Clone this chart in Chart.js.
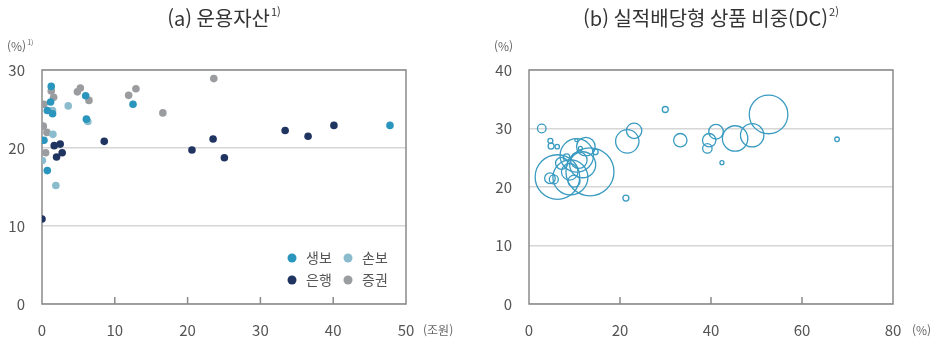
<!DOCTYPE html>
<html lang="ko">
<head>
    <meta charset="UTF-8">
    <title>운용자산 / 실적배당형 상품 비중</title>
    <script src="https://cdn.jsdelivr.net/npm/chart.js@4"></script>
    <style>
        body { margin: 0; background: #ffffff; }
        .wrap { position: relative; width: 934px; height: 339px; }
        .wrap canvas { position: absolute; top: 0; }
        #leftChart { left: 0; }
        #rightChart { left: 467px; }
    </style>
</head>
<body>
    <div class="wrap">
        <canvas id="leftChart" width="467" height="339"></canvas>
        <canvas id="rightChart" width="467" height="339"></canvas>
    </div>

    <script>
        // (a) 운용자산 (조원) vs 수익률 (%)
        const lifeX = [1.27, 1.18, 0.73, 1.45, 0.27, 0.73, 6.0, 6.1, 12.5, 47.8];
        const lifeY = [27.9, 25.9, 24.8, 24.4, 21.0, 17.1, 26.7, 23.7, 25.6, 22.9];
        const nonlifeX = [1.45, 1.5, 0.05, 1.9, 3.6, 6.3];
        const nonlifeY = [24.8, 21.75, 18.4, 15.2, 25.4, 23.4];
        const bankX = [1.68, 2.5, 2.0, 2.77, 0, 8.55, 20.6, 23.5, 25.05, 33.4, 36.55, 40.1];
        const bankY = [20.3, 20.5, 18.85, 19.4, 10.9, 20.85, 19.74, 21.15, 18.75, 22.25, 21.5, 22.9];
        const secX = [1.27, 0.27, 1.6, 0.18, 0.68, 0.5, 4.86, 5.27, 6.45, 11.9, 12.9, 16.6, 23.6];
        const secY = [27.3, 25.6, 26.5, 22.8, 22.0, 19.4, 27.2, 27.7, 26.1, 26.75, 27.6, 24.5, 28.9];

        // (b) 실적배당형 상품 비중(DC, %) vs 수익률 (%), 원 크기 = 적립금 규모
        const dcX = [2.8, 4.7, 4.85, 6.2, 6.25, 4.6, 5.45, 10.5, 12.5, 13.4, 9.1, 9.9, 7.15, 8.25, 10.95, 8.95, 10.4, 11.3, 14.6, 11.8,
                     21.3, 21.6, 23.1, 29.95, 33.25, 39.6, 41.1, 39.2, 42.4, 45.3, 49.05, 52.65, 67.7];
        const dcY = [30.0, 27.9, 27.0, 26.9, 21.7, 21.5, 21.3, 25.4, 26.9, 22.6, 21.65, 21.0, 24.05, 25.1, 24.6, 22.6, 28.0, 26.6, 26.0, 23.8,
                     18.1, 27.8, 29.6, 33.25, 28.0, 28.0, 29.45, 26.6, 24.15, 28.3, 28.85, 32.4, 28.15];
        const dcSize = [4.3, 2.5, 3, 2.2, 22.3, 5.3, 4.5, 16.7, 9.3, 24, 17.5, 6, 6, 3.3, 8.3, 8.3, 1.5, 2, 2.7, 13,
                        3, 11.7, 7.7, 3, 6.7, 6.7, 7.3, 4.7, 2, 12.7, 11.7, 19.3, 2.3];

        const leftTicksX = [0, 10, 20, 30, 40, 50];
        const rightTicksX = [0, 20, 40, 60, 80];

        const FONT = '"Noto Sans CJK KR", "Noto Sans", sans-serif';
        const colors = {
            life: '#2b96bd',
            nonlife: '#8bbccd',
            bank: '#203462',
            sec: '#9b9c9f',
            bubble: '#3a9bc1'
        };

        function pts(xs, ys) {
            return xs.map((x, i) => ({ x: x, y: ys[i] }));
        }

        // text with small raised note, e.g. "1)"
        function drawSup(ctx, main, sup, x, y, size, align) {
            ctx.font = size + 'px ' + FONT;
            const w1 = ctx.measureText(main).width;
            ctx.font = Math.round(size * 0.55) + 'px ' + FONT;
            const w2 = sup ? ctx.measureText(sup).width + 1 : 0;
            let start = x;
            if (align === 'center') start = x - (w1 + w2) / 2;
            if (align === 'right') start = x - (w1 + w2);
            ctx.textAlign = 'left';
            ctx.textBaseline = 'middle';
            ctx.font = size + 'px ' + FONT;
            ctx.fillText(main, start, y);
            if (sup) {
                ctx.font = Math.round(size * 0.55) + 'px ' + FONT;
                ctx.fillText(sup, start + w1 + 1, y - size * 0.3);
            }
        }

        const framePlugin = {
            id: 'frame',
            beforeDatasetsDraw(chart, args, opts) {
                const { ctx, chartArea: a } = chart;
                const x = chart.scales.x;
                ctx.save();
                ctx.strokeStyle = '#8a8a8a';
                ctx.lineWidth = 1.5;
                ctx.strokeRect(a.left, a.top, a.width, a.height);
                opts.inTicks.forEach(v => {
                    const px = x.getPixelForValue(v);
                    ctx.beginPath();
                    ctx.moveTo(px, a.bottom);
                    ctx.lineTo(px, a.bottom - 7);
                    ctx.stroke();
                });
                ctx.restore();
            },
            afterDraw(chart, args, opts) {
                const { ctx, chartArea: a } = chart;
                ctx.save();
                // title
                ctx.fillStyle = '#333333';
                drawSup(ctx, opts.title, opts.titleSup, (a.left + a.right) / 2, 18, 20, 'center');
                // units
                ctx.fillStyle = '#666666';
                drawSup(ctx, opts.unitTop, opts.unitTopSup, opts.unitTopX, 46, 12, 'left');
                drawSup(ctx, opts.unitBottom, '', a.right + opts.unitBottomGap, 330, 12, 'left');
                // legend in the plot area
                if (opts.legend) {
                    const items = chart.data.datasets;
                    const col = [a.right - 114, a.right - 58];
                    const row = [a.bottom - 46, a.bottom - 24];
                    const order = [0, 1, 2, 3];
                    order.forEach((d, k) => {
                        const cx = col[k % 2];
                        const cy = row[Math.floor(k / 2)];
                        ctx.fillStyle = items[d].backgroundColor;
                        ctx.beginPath();
                        ctx.arc(cx, cy, 4.5, 0, Math.PI * 2);
                        ctx.fill();
                        ctx.fillStyle = '#555555';
                        ctx.font = '14px ' + FONT;
                        ctx.textAlign = 'left';
                        ctx.textBaseline = 'middle';
                        ctx.fillText(items[d].label, cx + 14, cy);
                    });
                }
                ctx.restore();
            }
        };

        function axes(xMax, xStep, yMax, yWidth) {
            return {
                x: {
                    type: 'linear', min: 0, max: xMax,
                    ticks: { stepSize: xStep, padding: 17, color: '#555555', font: { family: FONT, size: 15 } },
                    grid: { display: false, drawTicks: false },
                    border: { display: false },
                    afterFit(s) { s.height = 35; }
                },
                y: {
                    type: 'linear', min: 0, max: yMax,
                    ticks: { stepSize: 10, padding: 17, color: '#555555', font: { family: FONT, size: 15 } },
                    grid: { color: '#d6d6d6', lineWidth: 1.5, drawTicks: false },
                    border: { display: false },
                    afterFit(s) { s.width = yWidth; }
                }
            };
        }

        new Chart(document.getElementById('leftChart'), {
            type: 'scatter',
            data: {
                datasets: [
                    { label: '생보', data: pts(lifeX, lifeY), backgroundColor: colors.life },
                    { label: '손보', data: pts(nonlifeX, nonlifeY), backgroundColor: colors.nonlife },
                    { label: '은행', data: pts(bankX, bankY), backgroundColor: colors.bank },
                    { label: '증권', data: pts(secX, secY), backgroundColor: colors.sec }
                ]
            },
            options: {
                responsive: false,
                animation: false,
                layout: { padding: { top: 70, right: 61, left: 0, bottom: 0 } },
                elements: { point: { radius: 3.8, borderWidth: 0 } },
                scales: axes(50, 10, 30, 42),
                plugins: {
                    legend: { display: false },
                    tooltip: { enabled: false },
                    frame: {
                        title: '(a) 운용자산', titleSup: '1)',
                        unitTop: '(%)', unitTopSup: '1)', unitTopX: 7,
                        unitBottom: '(조원)', unitBottomGap: 17,
                        inTicks: [10, 20, 30, 40],
                        legend: true
                    }
                }
            },
            plugins: [framePlugin]
        });

        new Chart(document.getElementById('rightChart'), {
            type: 'bubble',
            data: {
                datasets: [{
                    label: 'DC',
                    data: dcX.map((x, i) => ({ x: x, y: dcY[i], r: dcSize[i] })),
                    backgroundColor: 'rgba(0,0,0,0)',
                    borderColor: colors.bubble,
                    borderWidth: 1.3
                }]
            },
            options: {
                responsive: false,
                animation: false,
                layout: { padding: { top: 70, right: 41, left: 0, bottom: 0 } },
                scales: axes(80, 20, 40, 62),
                plugins: {
                    legend: { display: false },
                    tooltip: { enabled: false },
                    frame: {
                        title: '(b) 실적배당형 상품 비중(DC)', titleSup: '2)',
                        unitTop: '(%)', unitTopSup: '', unitTopX: 27,
                        unitBottom: '(%)', unitBottomGap: 19,
                        inTicks: [20, 40, 60],
                        legend: false
                    }
                }
            },
            plugins: [framePlugin]
        });
    </script>
</body>
</html>
